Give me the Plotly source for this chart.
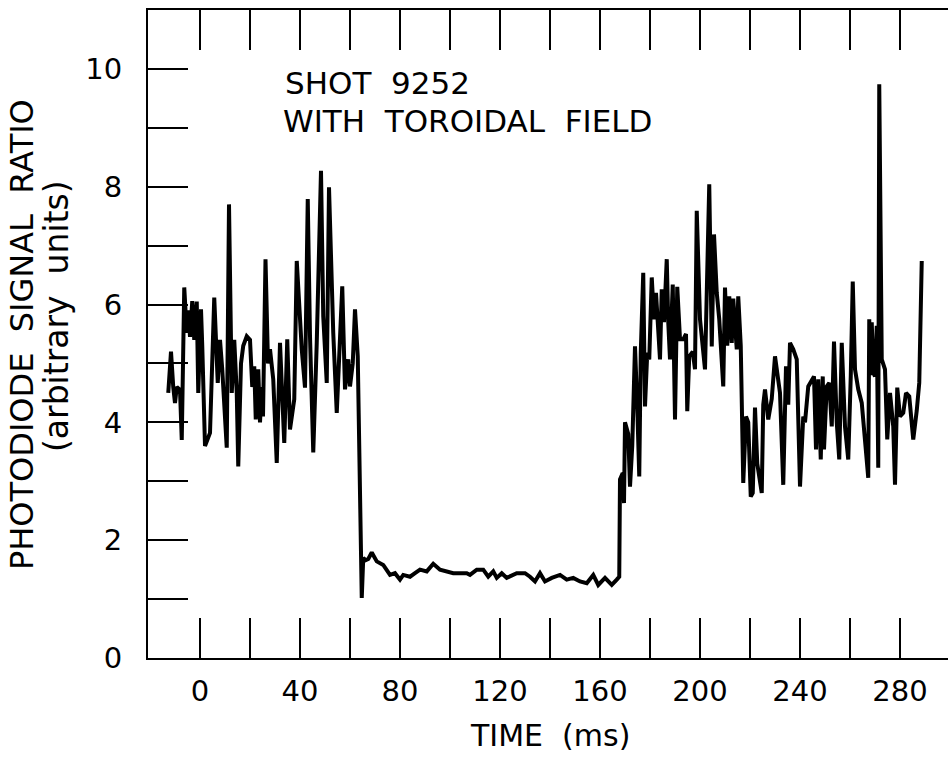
import plotly.graph_objects as go

# ---- data (time in ms, ratio in arbitrary units) ----
time_ms = [
    -12.7, -11.6, -10.7, -10.0, -9.3, -8.0, -7.3, -6.3, -5.3, -4.6, -4.0, -3.1, -2.3, -1.3, -0.7,
    0.4, 0.9, 2.0, 4.0, 5.7, 7.1, 8.0, 8.9, 10.7, 11.6, 12.7, 13.7, 14.7, 15.3, 16.4, 17.3,
    18.7, 20.0, 20.9, 21.7, 22.3, 23.3, 24.0, 24.7, 25.2, 26.2, 27.2, 28.0, 29.3, 30.7, 32.0,
    33.7, 34.9, 36.0, 37.7, 38.7, 40.7, 42.0, 43.1, 44.0, 45.3, 46.7, 48.4, 49.3, 50.7, 51.6,
    53.3, 54.7, 56.9, 58.0, 59.3, 60.0, 61.1, 62.0, 63.1, 64.7,
    65.3, 66.3, 67.3, 68.7, 70.7, 73.3, 76.0, 78.0, 80.0, 81.3, 84.0, 86.0, 88.0, 90.7, 93.3,
    96.0, 98.7, 101.3, 104.0, 106.7, 108.0, 110.7, 113.3, 115.3, 117.3, 118.7, 120.7, 122.7,
    126.7, 130.0, 132.0, 134.0, 136.0, 138.0, 140.7, 144.0, 146.7, 149.3, 152.0, 154.7, 157.3,
    159.3, 162.0, 164.7, 166.7, 167.7,
    168.0, 169.1, 169.6, 170.0, 171.3, 172.0, 172.9, 174.0, 174.9, 175.7, 176.3, 177.3, 178.0,
    178.9, 179.7, 180.7, 181.6, 182.4, 184.0, 184.7, 185.6, 186.7, 187.3, 188.0, 189.1, 190.0,
    190.9, 192.0, 193.3, 194.4, 194.9, 195.7, 197.1, 198.0, 198.7, 200.0, 202.0, 203.7, 204.7,
    205.6, 206.7, 207.7, 209.3, 210.0, 210.9, 211.7, 212.7, 213.3, 214.7, 215.3, 216.3, 217.3,
    218.4, 219.3, 220.3, 221.1, 222.0, 222.9, 224.7, 225.3, 226.0, 227.3, 228.7, 230.0, 232.0,
    233.3, 234.4, 235.3, 236.0, 237.3, 238.7, 240.0, 241.3, 242.0, 243.3, 244.7, 245.6, 246.4,
    247.3, 248.3, 249.1, 249.6, 250.7, 251.7, 252.7, 253.6, 254.7, 255.7, 256.7, 258.0, 259.3,
    260.3, 261.1, 262.0, 263.3, 264.7, 266.0, 267.3, 267.7, 268.2, 268.7, 269.3, 270.0, 270.7,
    271.3, 271.7, 272.7, 274.0, 274.9, 276.0, 277.3, 278.0, 278.9, 280.0, 281.3, 282.4, 283.7,
    285.3, 286.7, 287.7, 288.7,
]
ratio = [
    4.5, 5.2, 4.6, 4.33, 4.6, 4.55, 3.7, 6.29, 5.52, 5.9, 5.45, 6.06, 5.4, 6.05, 4.5,
    5.92, 5.3, 3.6, 3.82, 6.12, 4.67, 5.4, 4.9, 3.57, 7.7, 4.5, 5.4, 4.5, 3.25, 5.0, 5.3,
    5.46, 5.4, 4.6, 4.95, 4.05, 4.9, 4.0, 4.6, 4.1, 6.77, 5.0, 5.24, 4.73, 3.31, 5.35,
    3.65, 5.41, 3.88, 4.39, 6.74, 5.24, 4.59, 7.79, 5.46, 3.49, 5.35, 8.27, 5.8, 4.67, 7.99,
    5.52, 4.16, 6.31, 4.56, 5.07, 4.61, 5.0, 5.92, 5.12, 1.02,
    1.70, 1.66, 1.68, 1.79, 1.64, 1.58, 1.41, 1.44, 1.33, 1.41, 1.38, 1.44, 1.50, 1.47, 1.60,
    1.50, 1.47, 1.44, 1.44, 1.44, 1.41, 1.50, 1.50, 1.38, 1.47, 1.36, 1.44, 1.36,
    1.44, 1.44, 1.38, 1.30, 1.44, 1.30, 1.36, 1.41, 1.33, 1.36, 1.30, 1.27, 1.41,
    1.24, 1.36, 1.24, 1.33, 1.38,
    3.03, 3.14, 2.63, 4.0, 3.8, 2.91, 3.6, 5.29, 4.27, 3.08, 5.18, 6.54, 4.27,
    5.18, 5.07, 6.46, 5.75, 6.2, 5.07, 6.26, 5.7, 6.77, 5.7, 5.07, 6.34, 4.05,
    6.3, 5.41, 5.41, 5.5, 4.19, 5.12, 5.2, 4.9, 7.59, 5.75, 4.9, 8.04, 5.29,
    7.19, 6.2, 5.75, 4.61, 6.29, 5.3, 6.14, 5.35, 6.1, 5.24, 6.14, 5.3, 2.97,
    4.1, 4.0, 2.74, 2.8, 4.25, 3.3, 2.8, 4.3, 4.56, 4.05, 4.4, 5.12, 4.5,
    2.94, 4.95, 4.3, 5.35, 5.24, 5.07, 2.91, 4.1, 4.0, 4.61, 4.73, 4.78, 3.54,
    4.73, 3.37, 4.78, 3.54, 4.61, 4.67, 3.93, 5.37, 4.0, 3.37, 5.35, 3.93, 3.37,
    4.78, 6.39, 4.9, 4.56, 4.33, 3.65, 3.06, 5.75, 4.8, 5.7, 4.85, 4.78, 5.64,
    3.23, 9.74, 5.07, 4.9, 3.71, 4.5, 3.93, 2.94, 4.59, 4.1, 4.16, 4.5, 4.44,
    3.71, 4.2, 4.67, 6.74,
]

x_tickvals = [0, 20, 40, 60, 80, 100, 120, 140, 160, 180, 200, 220, 240, 260, 280]
x_ticktext = ["0", "", "40", "", "80", "", "120", "", "160", "", "200", "", "240", "", "280"]
y_tickvals = [0, 1, 2, 3, 4, 5, 6, 7, 8, 9, 10]
y_ticktext = ["0", "", "2", "", "4", "", "6", "", "8", "", "10"]

FONT = "DejaVu Sans"
INK = "black"

fig = go.Figure()
fig.add_trace(go.Scatter(
    x=time_ms, y=ratio, mode="lines",
    line=dict(color=INK, width=4),
    showlegend=False, hoverinfo="skip",
))

fig.update_layout(
    width=948, height=757,
    margin=dict(l=148, r=0, t=10, b=99),
    paper_bgcolor="white", plot_bgcolor="white",
    font=dict(family=FONT, color=INK, size=30),
    xaxis=dict(
        range=[-20.8, 299.2], showgrid=False, zeroline=False,
        showline=True, linecolor=INK, linewidth=2, mirror="ticks",
        ticks="inside", ticklen=40, tickwidth=2, tickcolor=INK,
        tickmode="array", tickvals=x_tickvals, ticktext=x_ticktext,
        tickfont=dict(family=FONT, size=29, color=INK),
        ticklabelstandoff=6,
    ),
    yaxis=dict(
        range=[0, 11.0], showgrid=False, zeroline=False,
        showline=True, linecolor=INK, linewidth=2, mirror=False,
        ticks="inside", ticklen=40, tickwidth=2, tickcolor=INK,
        tickmode="array", tickvals=y_tickvals, ticktext=y_ticktext,
        tickfont=dict(family=FONT, size=29, color=INK),
        ticklabelstandoff=18,
    ),
    yaxis2=dict(
        range=[0, 11.0], overlaying="y", side="right", matches="y",
        showgrid=False, zeroline=False, showline=False,
        ticks="inside", ticklen=40, tickwidth=2, tickcolor=INK,
        tickmode="array", tickvals=y_tickvals, showticklabels=False,
    ),
)

annotations = [
    dict(text="SHOT  9252", x=283, y=83, xanchor="left", yanchor="middle", size=31),
    dict(text="WITH  TOROIDAL  FIELD", x=281, y=121, xanchor="left", yanchor="middle", size=31),
    dict(text="TIME  (ms)", x=550, y=735, xanchor="center", yanchor="middle", size=30),
]
for a in annotations:
    fig.add_annotation(
        text=a["text"], xref="paper", yref="paper",
        x=(a["x"] - 148) / 800, y=1 - (a["y"] - 10) / 648,
        xanchor=a["xanchor"], yanchor=a["yanchor"], showarrow=False,
        font=dict(family=FONT, size=a["size"], color=INK),
    )

for txt, px, py, sz in [("PHOTODIODE  SIGNAL  RATIO", 22, 335, 32), ("(arbitrary  units)", 56, 316, 33)]:
    fig.add_annotation(
        text=txt, xref="paper", yref="paper",
        x=(px - 148) / 800, y=1 - (py - 10) / 648,
        xanchor="center", yanchor="middle", showarrow=False, textangle=-90,
        font=dict(family=FONT, size=sz, color=INK),
    )

fig.write_html("out.html")
